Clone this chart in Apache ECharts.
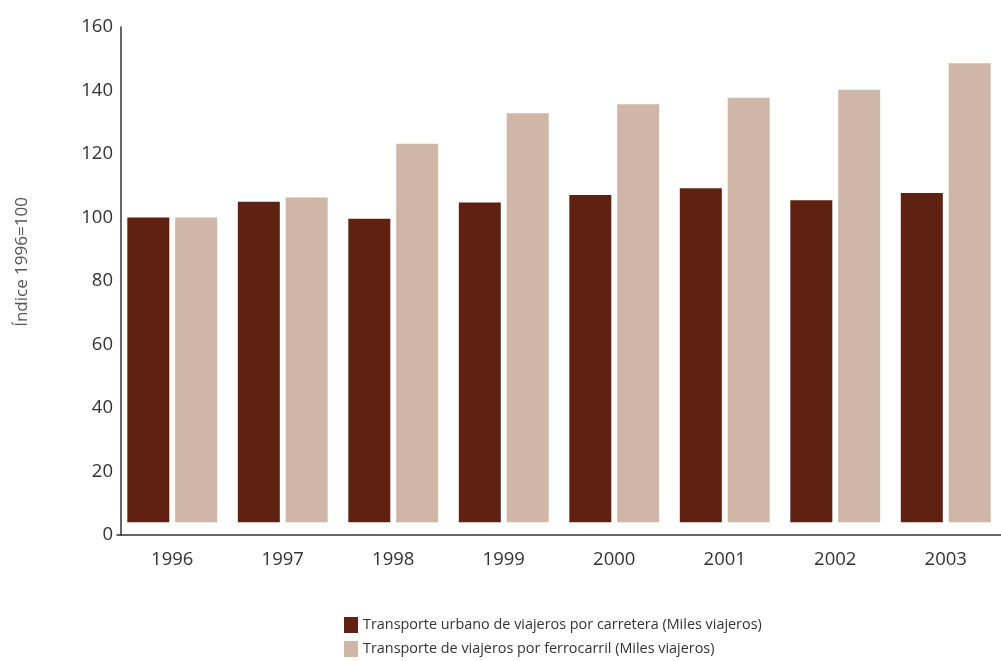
<!DOCTYPE html>
<html>
<head>
<meta charset="utf-8">
<script src="https://cdn.jsdelivr.net/npm/echarts@6/dist/echarts.min.js"></script>
<style>
html,body{margin:0;padding:0;background:#fff;}
#chart{width:1001px;height:661px;}
</style>
</head>
<body>
<div id="chart"></div>
<script>
var categories = ['1996','1997','1998','1999','2000','2001','2002','2003'];
var roadValues = [100, 105.0, 99.6, 104.7, 107.1, 109.2, 105.4, 107.7];
var railValues = [100, 106.3, 123.2, 132.8, 135.7, 137.7, 140.2, 148.6];
var yTicks = [0, 20, 40, 60, 80, 100, 120, 140, 160];
var seriesNames = ['Transporte urbano de viajeros por carretera (Miles viajeros)',
                   'Transporte de viajeros por ferrocarril (Miles viajeros)'];
var yTitle = 'Índice 1996=100';
var barBase = 4; // bars float slightly above the zero line in the original

var baseData = categories.map(function(){ return barBase; });
function lift(arr){ return arr.map(function(v){ return v - barBase; }); }

var chart = echarts.init(document.getElementById('chart'));
var font = 'Open Sans';
function legendFor(name, top){
  return {
    orient: 'vertical',
    left: 344,
    top: top,
    padding: 0,
    itemWidth: 14,
    itemHeight: 16,
    icon: 'rect',
    data: [name],
    textStyle: { fontFamily: font, fontSize: 14.4, color: '#333' }
  };
}
chart.setOption({
  animation: false,
  backgroundColor: '#ffffff',
  grid: { left: 117, right: -5, top: 27, bottom: 126, containLabel: false },
  legend: [ legendFor(seriesNames[0], 617), legendFor(seriesNames[1], 641) ],
  graphic: [{
    type: 'text',
    x: 22, y: 262,
    rotation: Math.PI / 2,
    style: { text: yTitle, fontFamily: font, fontSize: 17, fill: '#555',
             align: 'center', verticalAlign: 'middle' }
  }],
  xAxis: {
    type: 'category',
    data: categories,
    axisLine: { show: true, lineStyle: { color: '#333', width: 1.5 } },
    axisTick: { show: false },
    axisLabel: { fontFamily: font, fontSize: 18.5, color: '#333', margin: 15 }
  },
  yAxis: {
    type: 'value',
    min: yTicks[0],
    max: yTicks[yTicks.length - 1],
    interval: yTicks[1] - yTicks[0],
    offset: -4,
    splitLine: { show: false },
    axisLine: { show: true, lineStyle: { color: '#333', width: 1.5 } },
    axisTick: { show: false },
    axisLabel: { fontFamily: font, fontSize: 18.5, color: '#333', margin: 8 }
  },
  series: [
    { type: 'bar', stack: 'road', data: baseData, barWidth: 42, barGap: '14%',
      itemStyle: { color: 'rgba(0,0,0,0)' }, silent: true },
    { type: 'bar', stack: 'rail', data: baseData, barWidth: 42, barGap: '14%',
      itemStyle: { color: 'rgba(0,0,0,0)' }, silent: true },
    { name: seriesNames[0], type: 'bar', stack: 'road', data: lift(roadValues),
      barWidth: 42, barGap: '14%', itemStyle: { color: '#5f2212' } },
    { name: seriesNames[1], type: 'bar', stack: 'rail', data: lift(railValues),
      barWidth: 42, barGap: '14%', itemStyle: { color: '#cfb6a6' } }
  ]
});
</script>
</body>
</html>
